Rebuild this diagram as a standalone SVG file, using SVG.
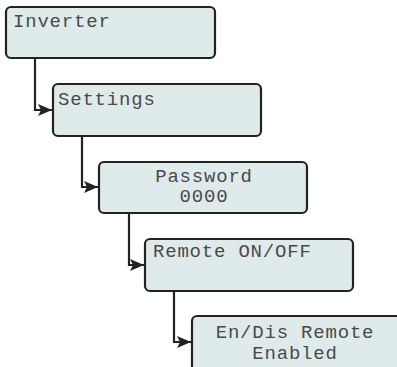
<svg xmlns="http://www.w3.org/2000/svg" width="397" height="367" viewBox="0 0 397 367">
<style>
.box{fill:#dfeaea;stroke:#222;stroke-width:2.2}
.t{font-family:"Liberation Mono","DejaVu Sans Mono",monospace;font-size:19px;letter-spacing:0.8px;fill:#4a4a4a}
.c{text-anchor:middle}
.ln{fill:none;stroke:#222;stroke-width:2.2}
</style>
<defs>
<marker id="ah" markerWidth="14" markerHeight="12" refX="14" refY="6" orient="auto" markerUnits="userSpaceOnUse">
<path d="M0,0 L14,6 L0,12 L3,6 Z" fill="#222"/>
</marker>
</defs>
<g id="connectors">
<path class="ln" d="M35,58 V110 H52" marker-end="url(#ah)"/>
<path class="ln" d="M82,136 V187 H98" marker-end="url(#ah)"/>
<path class="ln" d="M129,213 V265 H144" marker-end="url(#ah)"/>
<path class="ln" d="M174,291 V342 H191" marker-end="url(#ah)"/>
</g>
<g id="inverter">
<rect class="box" x="6" y="7" width="209" height="51" rx="5"/>
<text class="t" x="13" y="27">Inverter</text>
</g>
<g id="settings">
<rect class="box" x="53" y="84" width="208" height="52" rx="5"/>
<text class="t" x="58" y="105">Settings</text>
</g>
<g id="password">
<rect class="box" x="99" y="162" width="208" height="51" rx="5"/>
<text class="t c" x="204" y="182">Password</text>
<text class="t c" x="204" y="202">0000</text>
</g>
<g id="remote">
<rect class="box" x="145" y="239" width="208" height="52" rx="5"/>
<text class="t" x="153" y="257">Remote ON/OFF</text>
</g>
<g id="endis">
<rect class="box" x="192" y="316" width="210" height="60" rx="5"/>
<text class="t c" x="295" y="338">En/Dis Remote</text>
<text class="t c" x="295" y="359">Enabled</text>
</g>
</svg>
